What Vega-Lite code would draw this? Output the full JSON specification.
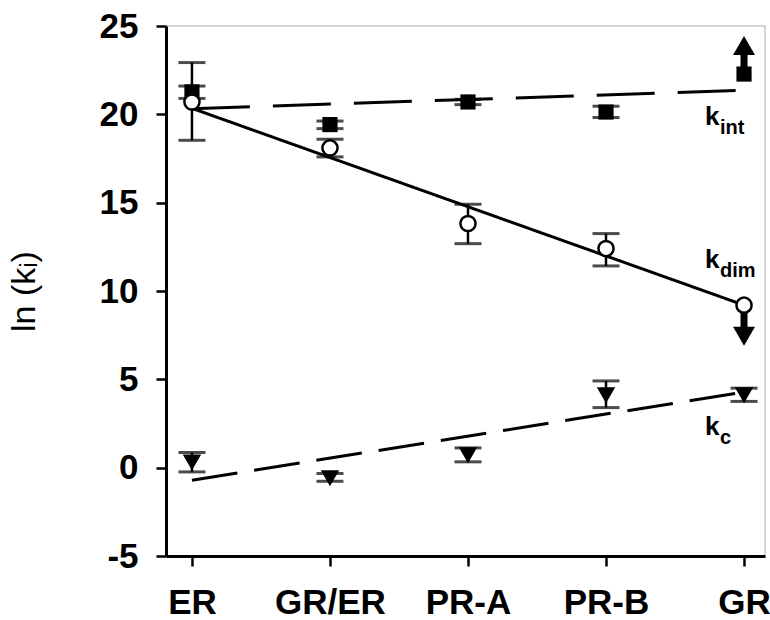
{
  "$schema": "https://vega.github.io/schema/vega-lite/v6.json",
  "width": 599,
  "height": 530,
  "autosize": {"type": "none"},
  "padding": {"left": 166, "top": 26, "right": 5, "bottom": 64},
  "background": "white",
  "config": {
    "view": {"stroke": "#c8c8c8", "strokeWidth": 1.5},
    "font": "Liberation Sans"
  },
  "datasets": {
    "points": [
      {"series": "kint", "cat": "ER", "value": 21.27, "lo": 20.9, "hi": 21.6},
      {"series": "kint", "cat": "GR/ER", "value": 19.42, "lo": 19.19, "hi": 19.62},
      {"series": "kint", "cat": "PR-A", "value": 20.7, "lo": 20.55, "hi": 20.85},
      {"series": "kint", "cat": "PR-B", "value": 20.13, "lo": 19.82, "hi": 20.46},
      {"series": "kint", "cat": "GR", "value": 22.28, "lo": 22.28, "hi": 22.28},
      {"series": "kdim", "cat": "ER", "value": 20.7, "lo": 18.53, "hi": 22.93},
      {"series": "kdim", "cat": "GR/ER", "value": 18.1, "lo": 17.59, "hi": 18.59},
      {"series": "kdim", "cat": "PR-A", "value": 13.82, "lo": 12.68, "hi": 14.91},
      {"series": "kdim", "cat": "PR-B", "value": 12.4, "lo": 11.42, "hi": 13.25},
      {"series": "kdim", "cat": "GR", "value": 9.2, "lo": 9.2, "hi": 9.2},
      {"series": "kc", "cat": "ER", "value": 0.3, "lo": -0.24, "hi": 0.86},
      {"series": "kc", "cat": "GR/ER", "value": -0.6, "lo": -0.77, "hi": -0.33},
      {"series": "kc", "cat": "PR-A", "value": 0.7, "lo": 0.33, "hi": 1.12},
      {"series": "kc", "cat": "PR-B", "value": 4.1, "lo": 3.4, "hi": 4.91},
      {"series": "kc", "cat": "GR", "value": 4.1, "lo": 3.75, "hi": 4.5}
    ],
    "fits": [
      {"series": "kint", "cat": "ER", "value": 20.32},
      {"series": "kint", "cat": "GR", "value": 21.36},
      {"series": "kdim", "cat": "ER", "value": 20.34},
      {"series": "kdim", "cat": "GR", "value": 9.2},
      {"series": "kc", "cat": "ER", "value": -0.71},
      {"series": "kc", "cat": "GR", "value": 4.28}
    ],
    "arrows": [
      {"dir": "up", "cat": "GR", "from": 22.28, "to": 23.9},
      {"dir": "down", "cat": "GR", "from": 9.2, "to": 7.44}
    ],
    "labels": [
      {"series": "kint", "cat": "GR", "y": 19.4, "main": "k", "sub": "int"},
      {"series": "kdim", "cat": "GR", "y": 11.29, "main": "k", "sub": "dim"},
      {"series": "kc", "cat": "GR", "y": 1.84, "main": "k", "sub": "c"}
    ]
  },
  "encoding": {
    "x": {
      "field": "cat",
      "type": "nominal",
      "sort": ["ER", "GR/ER", "PR-A", "PR-B", "GR"],
      "scale": {"type": "point", "domain": ["ER", "GR/ER", "PR-A", "PR-B", "GR"], "padding": 0.17, "align": 0.553},
      "axis": {
        "title": null,
        "labelFont": "Liberation Sans",
        "labelFontWeight": "bold",
        "labelFontSize": 35,
        "labelColor": "black",
        "labelAngle": 0,
        "labelPadding": 19,
        "tickSize": 10,
        "tickWidth": 2.5,
        "tickColor": "black",
        "domainColor": "black",
        "domainWidth": 3,
        "grid": false
      }
    }
  },
  "layer": [
    {
      "data": {"name": "fits"},
      "mark": {"type": "line", "color": "black", "strokeWidth": 3},
      "encoding": {
        "y": {
          "field": "value",
          "type": "quantitative",
          "scale": {"domain": [-5, 25], "nice": false, "zero": false},
          "axis": {
            "values": [-5, 0, 5, 10, 15, 20, 25],
            "labelExpr": "datum.value < 0 ? '-' + abs(datum.value) : datum.label",
            "title": "ln (kᵢ)",
            "titleFont": "Liberation Sans",
            "titleFontWeight": "normal",
            "titleFontSize": 34,
            "titleColor": "black",
            "titlePadding": 58,
            "labelFont": "Liberation Sans",
            "labelFontWeight": "bold",
            "labelFontSize": 35,
            "labelColor": "black",
            "labelPadding": 18,
            "tickSize": 10,
            "tickWidth": 2.5,
            "tickColor": "black",
            "domainColor": "black",
            "domainWidth": 3,
            "grid": false
          }
        },
        "detail": {"field": "series"},
        "strokeDash": {
          "field": "series",
          "type": "nominal",
          "scale": {"domain": ["kint", "kdim", "kc"], "range": [[58, 23], [1, 0], [46, 17]]},
          "legend": null
        }
      }
    },
    {
      "data": {"name": "points"},
      "mark": {"type": "rule", "color": "black", "strokeWidth": 2.5},
      "encoding": {
        "y": {"field": "lo", "type": "quantitative"},
        "y2": {"field": "hi"}
      }
    },
    {
      "data": {"name": "points"},
      "transform": [{"filter": "datum.cat != 'GR' || datum.series == 'kc'"}],
      "mark": {"type": "tick", "color": "black", "size": 27, "thickness": 3},
      "encoding": {"y": {"field": "lo", "type": "quantitative"}}
    },
    {
      "data": {"name": "points"},
      "transform": [{"filter": "datum.cat != 'GR' || datum.series == 'kc'"}],
      "mark": {"type": "tick", "color": "black", "size": 27, "thickness": 3},
      "encoding": {"y": {"field": "hi", "type": "quantitative"}}
    },
    {
      "data": {"name": "arrows"},
      "mark": {"type": "rule", "color": "black", "strokeWidth": 7},
      "encoding": {
        "y": {"field": "from", "type": "quantitative"},
        "y2": {"field": "to"}
      }
    },
    {
      "data": {"name": "arrows"},
      "transform": [{"filter": "datum.dir == 'up'"}],
      "mark": {"type": "point", "shape": "triangle-up", "filled": true, "color": "black", "size": 480, "opacity": 1},
      "encoding": {"y": {"field": "to", "type": "quantitative"}}
    },
    {
      "data": {"name": "arrows"},
      "transform": [{"filter": "datum.dir == 'down'"}],
      "mark": {"type": "point", "shape": "triangle-down", "filled": true, "color": "black", "size": 480, "opacity": 1},
      "encoding": {"y": {"field": "to", "type": "quantitative"}}
    },
    {
      "data": {"name": "points"},
      "transform": [{"filter": "datum.series == 'kint'"}],
      "mark": {"type": "point", "shape": "square", "filled": true, "color": "black", "size": 230, "opacity": 1},
      "encoding": {"y": {"field": "value", "type": "quantitative"}}
    },
    {
      "data": {"name": "points"},
      "transform": [{"filter": "datum.series == 'kc'"}],
      "mark": {"type": "point", "shape": "triangle-down", "filled": true, "color": "black", "size": 340, "opacity": 1},
      "encoding": {"y": {"field": "value", "type": "quantitative"}}
    },
    {
      "data": {"name": "points"},
      "transform": [{"filter": "datum.series == 'kdim'"}],
      "mark": {"type": "point", "shape": "circle", "filled": false, "fill": "white", "stroke": "black", "strokeWidth": 2.5, "size": 230, "opacity": 1, "fillOpacity": 1},
      "encoding": {"y": {"field": "value", "type": "quantitative"}}
    },
    {
      "data": {"name": "labels"},
      "mark": {"type": "text", "align": "left", "baseline": "alphabetic", "dx": -39, "font": "Liberation Sans", "fontWeight": "bold", "fontSize": 26, "color": "black"},
      "encoding": {
        "y": {"field": "y", "type": "quantitative"},
        "text": {"field": "main"}
      }
    },
    {
      "data": {"name": "labels"},
      "mark": {"type": "text", "align": "left", "baseline": "alphabetic", "dx": -24, "dy": 9, "font": "Liberation Sans", "fontWeight": "bold", "fontSize": 20, "color": "black"},
      "encoding": {
        "y": {"field": "y", "type": "quantitative"},
        "text": {"field": "sub"}
      }
    },
    {
      "mark": {"type": "rule", "color": "black", "strokeWidth": 3},
      "encoding": {"y": {"datum": 25}}
    }
  ]
}
